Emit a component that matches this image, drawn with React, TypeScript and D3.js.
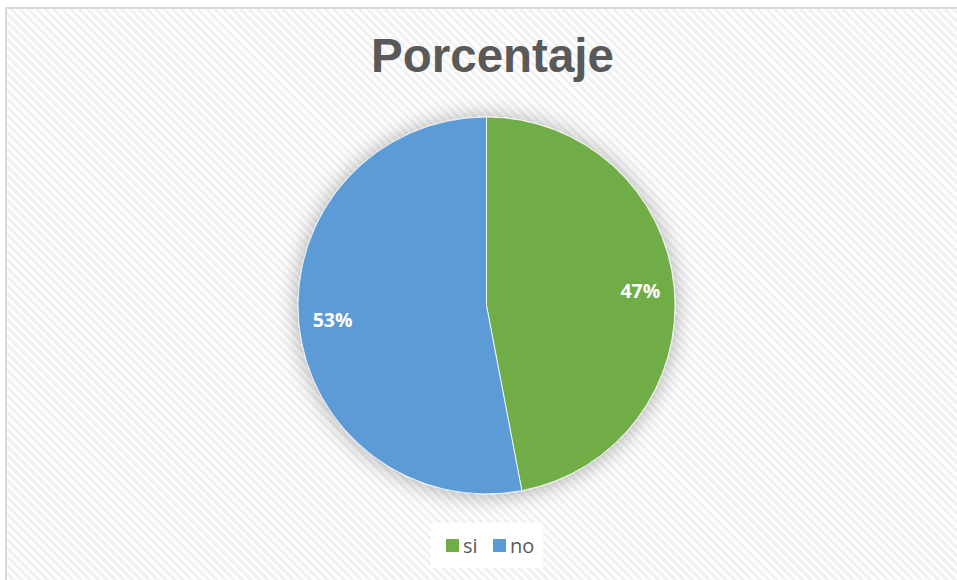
import React from "react";
import * as d3 from "d3";

const categories = ["si", "no"];
const values = [47, 53];
const colors = ["#70AD47", "#5B9BD5"];
const title = "Porcentaje";

const W = 957;
const H = 580;

export default function App() {
  const cx = 486.5;
  const cy = 305.5;
  const r = 188.5;
  const pie = d3.pie<number>().sort(null).value((d) => d)(values);
  const arc = d3.arc<d3.PieArcDatum<number>>().innerRadius(0).outerRadius(r);
  const labelArc = d3.arc<d3.PieArcDatum<number>>().innerRadius(r * 0.82).outerRadius(r * 0.82);
  const total = d3.sum(values);

  return (
    <svg
      width={W}
      height={H}
      style={{ position: "absolute", left: 0, top: 0 }}
      fontFamily="'Liberation Sans', Arial, sans-serif"
    >
      <defs>
        <pattern id="hatch" patternUnits="userSpaceOnUse" width="6" height="6" patternTransform="rotate(-45)">
          <rect width="6" height="6" fill="#ffffff" />
          <rect width="3" height="6" fill="#f1f1f1" />
        </pattern>
        <filter id="shadow" x="-25%" y="-25%" width="150%" height="150%">
          <feGaussianBlur in="SourceAlpha" stdDeviation="11" />
          <feOffset dx="0" dy="1" result="blur" />
          <feFlood floodColor="#000" floodOpacity="0.32" />
          <feComposite in2="blur" operator="in" />
          <feMerge>
            <feMergeNode />
            <feMergeNode in="SourceGraphic" />
          </feMerge>
        </filter>
      </defs>
      <rect x={0} y={0} width={W} height={H} fill="#ffffff" />
      <rect x={6} y={8} width={W + 10} height={H + 10} fill="url(#hatch)" stroke="#d9d9d9" strokeWidth={2} />
      <text
        x={492.5}
        y={72}
        textAnchor="middle"
        fontSize={47.5}
        fontWeight="bold"
        fill="#595959"
      >
        {title}
      </text>
      <g transform={`translate(${cx},${cy})`}>
        <g filter="url(#shadow)">
          {pie.map((p, i) => (
            <path key={categories[i]} d={arc(p) || ""} fill={colors[i]} stroke="#ffffff" strokeWidth={0.8} />
          ))}
        </g>
        {pie.map((p, i) => {
          const [lx, ly] = labelArc.centroid(p);
          return (
            <text
              key={"l" + categories[i]}
              x={lx}
              y={ly}
              dy="0.35em"
              textAnchor="middle"
              fontSize={19.5}
              fontWeight="bold"
              fill="#ffffff"
              fontFamily="'Open Sans', sans-serif"
            >
              {Math.round((values[i] / total) * 100) + "%"}
            </text>
          );
        })}
      </g>
      <rect x={431} y={523} width={112} height={45} fill="#ffffff" />
      {categories.map((c, i) => {
        const x0 = i === 0 ? 446 : 493;
        return (
          <g key={"lg" + c}>
            <rect x={x0} y={539} width={13} height={13} fill={colors[i]} />
            <text x={x0 + 17} y={552.5} fontSize={20} fill="#595959" fontFamily="'Open Sans', sans-serif">
              {c}
            </text>
          </g>
        );
      })}
    </svg>
  );
}
